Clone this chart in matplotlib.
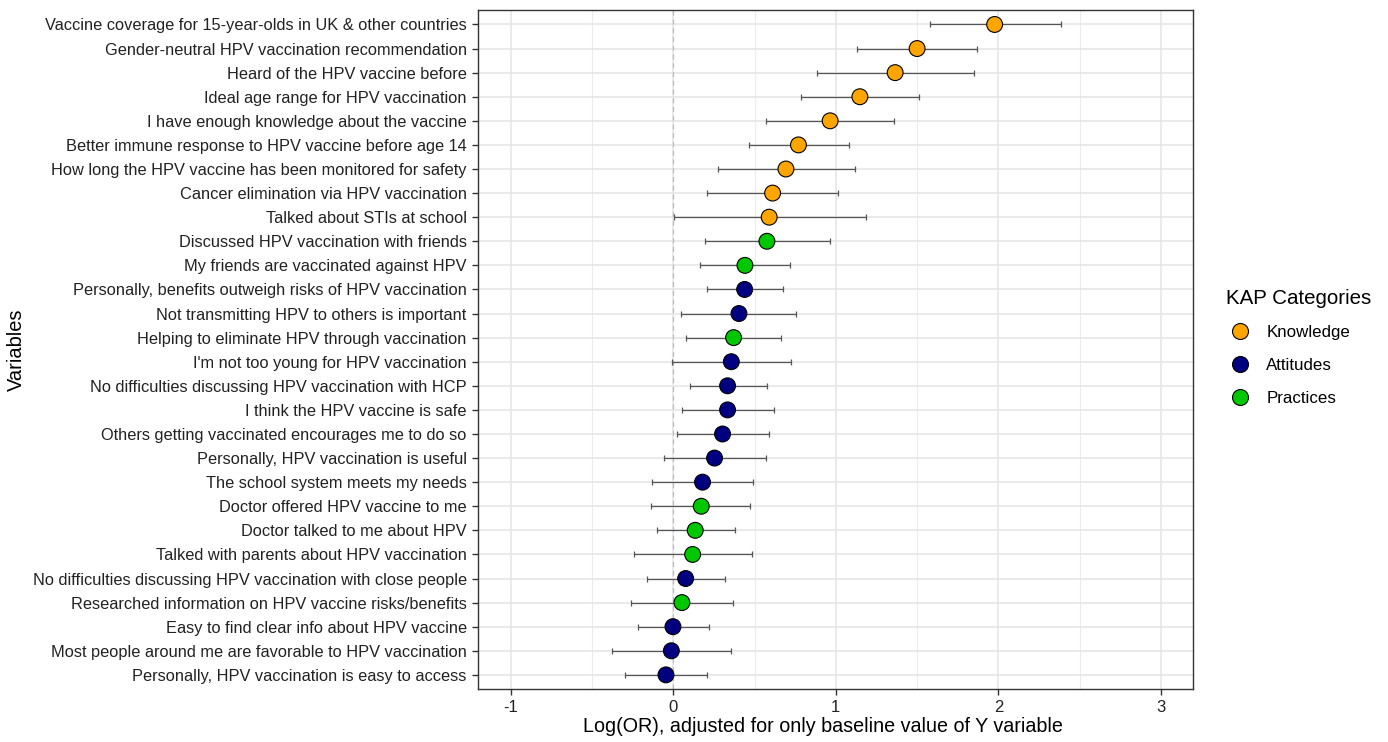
import matplotlib.pyplot as plt
from matplotlib.lines import Line2D
import numpy as np

plt.rcParams['font.family'] = ['Liberation Sans', 'DejaVu Sans']

# top to bottom as shown
variables = [
    "Vaccine coverage for 15-year-olds in UK & other countries",
    "Gender-neutral HPV vaccination recommendation",
    "Heard of the HPV vaccine before",
    "Ideal age range for HPV vaccination",
    "I have enough knowledge about the vaccine",
    "Better immune response to HPV vaccine before age 14",
    "How long the HPV vaccine has been monitored for safety",
    "Cancer elimination via HPV vaccination",
    "Talked about STIs at school",
    "Discussed HPV vaccination with friends",
    "My friends are vaccinated against HPV",
    "Personally, benefits outweigh risks of HPV vaccination",
    "Not transmitting HPV to others is important",
    "Helping to eliminate HPV through vaccination",
    "I'm not too young for HPV vaccination",
    "No difficulties discussing HPV vaccination with HCP",
    "I think the HPV vaccine is safe",
    "Others getting vaccinated encourages me to do so",
    "Personally, HPV vaccination is useful",
    "The school system meets my needs",
    "Doctor offered HPV vaccine to me",
    "Doctor talked to me about HPV",
    "Talked with parents about HPV vaccination",
    "No difficulties discussing HPV vaccination with close people",
    "Researched information on HPV vaccine risks/benefits",
    "Easy to find clear info about HPV vaccine",
    "Most people around me are favorable to HPV vaccination",
    "Personally, HPV vaccination is easy to access",
]
category = ["Knowledge"] * 9 + [
    "Practices", "Practices", "Attitudes", "Attitudes", "Practices",
    "Attitudes", "Attitudes", "Attitudes", "Attitudes", "Attitudes",
    "Attitudes", "Practices", "Practices", "Practices", "Attitudes",
    "Practices", "Attitudes", "Attitudes", "Attitudes",
]
log_or = [1.977, 1.500, 1.365, 1.148, 0.965, 0.770, 0.693, 0.611, 0.590,
          0.576, 0.441, 0.439, 0.404, 0.371, 0.357, 0.334, 0.334, 0.303,
          0.254, 0.180, 0.172, 0.135, 0.119, 0.076, 0.053, -0.002, -0.012,
          -0.045]
ci_low = [1.578, 1.131, 0.883, 0.787, 0.572, 0.463, 0.275, 0.207, 0.004,
          0.193, 0.166, 0.207, 0.049, 0.080, -0.008, 0.100, 0.053, 0.023,
          -0.059, -0.131, -0.135, -0.102, -0.240, -0.160, -0.258, -0.217,
          -0.375, -0.297]
ci_high = [2.383, 1.869, 1.850, 1.514, 1.357, 1.082, 1.117, 1.014, 1.184,
           0.967, 0.721, 0.678, 0.756, 0.662, 0.723, 0.574, 0.617, 0.588,
           0.568, 0.488, 0.475, 0.377, 0.482, 0.316, 0.365, 0.217, 0.355,
           0.209]

colors = {"Knowledge": "#FFA500", "Attitudes": "#000080", "Practices": "#00C800"}

n = len(variables)
ypos = np.arange(n)[::-1]
est = np.array(log_or)
lo = np.array(ci_low)
hi = np.array(ci_high)

fig = plt.figure(figsize=(13.88, 7.42), dpi=100)
ax = fig.add_axes([0.3442, 0.0710, 0.5155, 0.9155])

# grid
for x in np.arange(-1, 3.01, 1):
    ax.axvline(x, color="#E6E6E6", lw=1.2, zorder=0)
for x in np.arange(-0.5, 3.01, 1):
    ax.axvline(x, color="#ECECEC", lw=0.8, zorder=0)
for y in ypos:
    ax.axhline(y, color="#E6E6E6", lw=1.2, zorder=0)
ax.axvline(0, color="#BBBBBB", lw=0.9, ls=(0, (4, 3)), zorder=1)

ax.errorbar(est, ypos, xerr=[est - lo, hi - est], fmt="none",
            ecolor="#555555", elinewidth=0.9, capsize=2, capthick=0.9, zorder=2)
ax.scatter(est, ypos, s=130, c=[colors[c] for c in category],
           edgecolors="black", linewidths=0.8, zorder=3)

ax.set_xlim(-1.203, 3.199)
ax.set_ylim(-0.6, n - 0.4)
ax.set_xticks([-1, 0, 1, 2, 3])
ax.set_xticklabels(["-1", "0", "1", "2", "3"])
ax.set_yticks(ypos)
ax.set_yticklabels(variables)
ax.tick_params(axis="y", labelsize=11.8, colors="#333333", length=4,
               width=1, labelcolor="#222222", pad=4)
ax.tick_params(axis="x", labelsize=12, colors="#333333", length=4,
               width=1, labelcolor="#222222", pad=4)
for sp in ax.spines.values():
    sp.set_color("#333333")
    sp.set_linewidth(1)

ax.set_xlabel("Log(OR), adjusted for only baseline value of Y variable",
              fontsize=14.2)
ax.set_ylabel("Variables", fontsize=14.4)
ax.xaxis.set_label_coords(0.4825, -0.041)
ax.yaxis.set_label_coords(-0.631, 0.5)

handles = [Line2D([], [], ls="none", marker="o", markersize=11.5,
                  markerfacecolor=colors[k], markeredgecolor="black",
                  markeredgewidth=0.8, label=k)
           for k in ["Knowledge", "Attitudes", "Practices"]]
fig.legend(handles=handles, title="KAP Categories", loc="center left",
           bbox_to_anchor=(0.872, 0.532), frameon=False, fontsize=12.2,
           title_fontsize=14.8, handlelength=1.7, handletextpad=0.7,
           labelspacing=1.05, alignment="left")

fig.savefig("out.png", dpi=100)
